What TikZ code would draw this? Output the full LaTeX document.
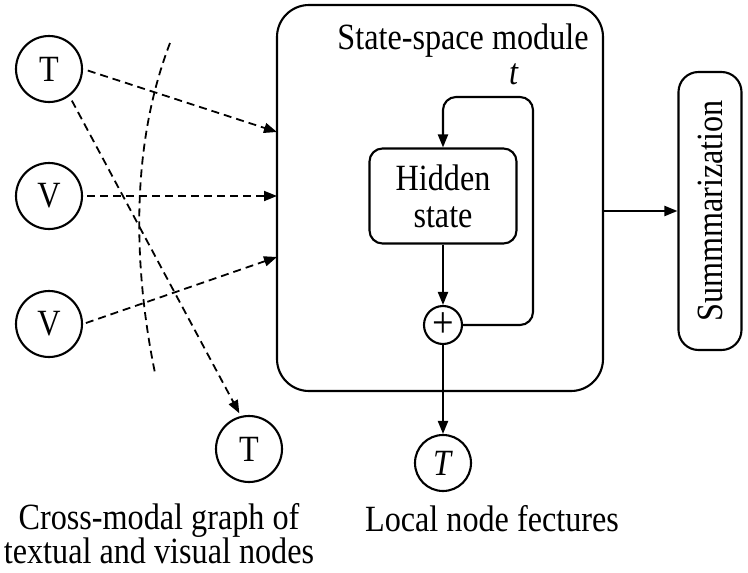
\documentclass[tikz,border=0pt]{standalone}
\usepackage{fontspec}
\setmainfont[FakeStretch=0.87]{Liberation Serif}
\usetikzlibrary{arrows.meta}
\tikzstyle{mycircle} = [draw=black, circle, line width=2.1pt, minimum size=66pt,
inner sep=0pt, font=\fontsize{37}{40}\selectfont]
\tikzstyle{mybox} = [draw=black, rectangle, line width=2.1pt, rounded corners=13pt,
align=center, inner sep=0pt, font=\fontsize{37}{37}\selectfont]
\tikzstyle{dasharrow} = [line width=1.8pt, dash pattern=on 8pt off 5pt, -{Triangle[length=13pt,width=10pt]}]
\tikzstyle{solidarrow} = [line width=2.1pt, -{Triangle[length=13pt,width=10pt]}]

\begin{document}
\begin{tikzpicture}[x=1pt, y=-1pt]
		\useasboundingbox (0,0) rectangle (748,573);
		% graph nodes
		\node [mycircle] (T1) at (49,69) {T};
		\node [mycircle] (V1) at (49,196) {V};
		\node [mycircle] (V2) at (49,324) {V};
		\node [mycircle] (T2) at (249,449) {T};
		% state-space module
		\draw [line width=2.1pt, rounded corners=32pt] (277,5) rectangle (603,391);
		\node [inner sep=0pt, minimum width=326pt, minimum height=386pt] (ssm) at (440,198) {};
		\node [font=\fontsize{37}{40}\selectfont] (title) at (463,41) {State-space module};
		\node [mybox, minimum width=147pt, minimum height=95pt] (hidden) at (443,196) {Hidden\\state};
		\node [mycircle, minimum size=38pt, font=\fontsize{44}{44}\selectfont] (plus) at (443,325) {+};
		\node [font=\fontsize{37}{40}\selectfont] (t) at (514,74) {\textit{t}};
		\node [mycircle, minimum size=56pt] (Tout) at (443,463) {\textit{T}};
		\node [mybox, rounded corners=20pt, rotate=90, minimum width=278pt, minimum height=63pt] (summ) at (710,211) {Summmarization};
		% input connections
		\coordinate (in1) at (277,132);
		\coordinate (in2) at (277,196);
		\coordinate (in3) at (277,257);
		\draw [dasharrow, shorten <=5pt] (T1.east) -- (in1);
		\draw [dasharrow, shorten <=4pt] (V1.east) -- (in2);
		\draw [dasharrow, shorten <=3pt] (V2.east) -- (in3);
		\draw [dasharrow, shorten <=5pt, shorten >=3pt] (T1.-53) -- (T2.104);
		\draw [line width=1.8pt, dash pattern=on 8pt off 5pt] (170,43) .. controls (125,160) and (138,290) .. (155,373);
		% recurrence
		\draw [solidarrow] (hidden.south) -- (plus.north);
		\draw [solidarrow, rounded corners=13pt] (plus.east) -- (533,325) -- (533,97) -- (443,97) -- (hidden.north);
		\draw [solidarrow] (plus.south) -- (Tout.north);
		\draw [solidarrow] (summ.north -| ssm.east) -- (summ.north);
		% captions
		\node [align=center, font=\fontsize{37}{34}\selectfont] (cap1) at (159,534) {Cross-modal graph of\\textual and visual nodes};
		\node [font=\fontsize{37}{34}\selectfont] (cap2) at (492,519) {Local node fectures};
		\end{tikzpicture}
\end{document}
